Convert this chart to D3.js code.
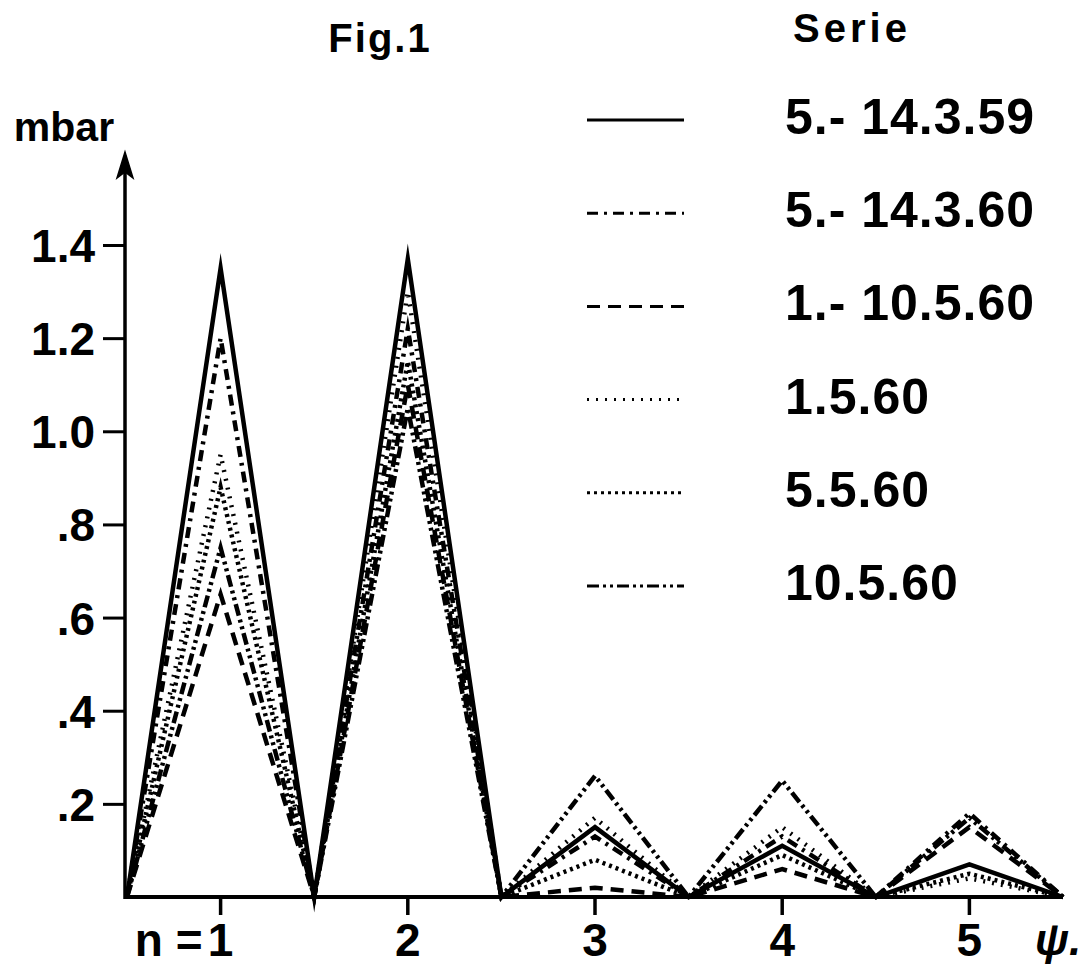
<!DOCTYPE html>
<html>
<head>
<meta charset="utf-8">
<script src="https://cdn.jsdelivr.net/npm/d3@7"></script>
<style>
  body { margin: 0; background: #fff; }
  text { font-family: "Liberation Sans", "DejaVu Sans", sans-serif; font-weight: bold; fill: #000; }
</style>
</head>
<body>
<svg id="chart" width="1089" height="965"></svg>
<script>
// harmonic order n and y ticks
const orders = [1, 2, 3, 4, 5];
const yTicks = [0.2, 0.4, 0.6, 0.8, 1.0, 1.2, 1.4];

// series labels (legend) and peak values per order, mbar
const seriesNames = ["5.- 14.3.59", "5.- 14.3.60", "1.- 10.5.60", "1.5.60", "5.5.60", "10.5.60"];
const s14359  = [1.35, 1.37, 0.15, 0.11, 0.07];
const s14360  = [1.20, 1.22, 0.13, 0.13, 0.18];
const s110560 = [0.65, 1.10, 0.02, 0.06, 0.15];
const s1560   = [0.95, 1.30, 0.17, 0.15, 0.04];
const s5560   = [0.88, 1.15, 0.08, 0.09, 0.05];
const s10560  = [0.75, 1.05, 0.26, 0.25, 0.17];
const seriesValues = [s14359, s14360, s110560, s1560, s5560, s10560];
const dashes = ["none", "11,6,3,6", "13,8", "2,7", "3,4", "12,4,3,4,3,4"];

const svg = d3.select("#chart");

const x = d3.scaleLinear().domain([0.5, 5.5]).range([127, 1063]);
const y = d3.scaleLinear().domain([0, 1.4]).range([897, 245]);
const axisX = 125;

// Title
svg.append("text")
    .attr("x", 380).attr("y", 52)
    .attr("text-anchor", "middle")
    .style("font-size", "40px")
    .style("letter-spacing", "2px")
    .text("Fig.1");

svg.append("text")
    .attr("x", 64).attr("y", 141)
    .attr("text-anchor", "middle")
    .style("font-size", "41px")
    .text("mbar");

// Y axis
const yAxis = d3.axisLeft(y)
    .tickValues(yTicks)
    .tickSize(22)
    .tickPadding(8)
    .tickFormat(d => d < 1 ? d3.format(".1f")(d).replace(/^0/, "") : d3.format(".1f")(d));

const gy = svg.append("g")
    .attr("transform", `translate(${axisX},0)`)
    .call(yAxis);
gy.select(".domain").remove();
gy.selectAll(".tick line").attr("stroke", "#000").attr("stroke-width", 3);
gy.selectAll(".tick text")
    .style("font-size", "46px")
    .attr("dy", "0.36em");

svg.append("line")
    .attr("x1", axisX).attr("x2", axisX)
    .attr("y1", y(0) + 2).attr("y2", 165)
    .attr("stroke", "#000").attr("stroke-width", 3.5);

svg.append("path")
    .attr("d", `M${axisX},152 L${axisX - 8},178 L${axisX},172 L${axisX + 8},178 Z`)
    .attr("fill", "#000").attr("stroke", "#000").attr("stroke-width", 1.5);

// X axis
svg.append("line")
    .attr("x1", axisX).attr("x2", x(5.5))
    .attr("y1", y(0)).attr("y2", y(0))
    .attr("stroke", "#000").attr("stroke-width", 4);

svg.selectAll(".xtick")
    .data(orders)
    .enter()
    .append("line")
    .attr("class", "xtick")
    .attr("x1", d => x(d)).attr("x2", d => x(d))
    .attr("y1", y(0)).attr("y2", y(0) + 18)
    .attr("stroke", "#000").attr("stroke-width", 3.5);

svg.selectAll(".xlabel")
    .data(orders)
    .enter()
    .append("text")
    .attr("class", "xlabel")
    .attr("x", d => x(d))
    .attr("y", 956)
    .attr("text-anchor", "middle")
    .style("font-size", "46px")
    .text(d => d);

svg.append("text")
    .attr("x", x(1) - 18).attr("y", 956)
    .attr("text-anchor", "end")
    .style("font-size", "46px")
    .text("n =");

svg.append("text")
    .attr("x", 1058).attr("y", 955)
    .attr("text-anchor", "middle")
    .style("font-size", "44px")
    .style("font-style", "italic")
    .text("ψ.");

// Series: zero at half orders, peak at each order
const line = d3.line()
    .x(d => x(d[0]))
    .y(d => y(d[1]));

function toPoints(vals) {
    const pts = [[0.5, 0]];
    vals.forEach((v, i) => {
        pts.push([orders[i], v]);
        pts.push([orders[i] + 0.5, 0]);
    });
    return pts;
}

svg.selectAll(".series")
    .data(seriesValues)
    .enter()
    .append("path")
    .attr("class", "series")
    .attr("d", d => line(toPoints(d)))
    .attr("fill", "none")
    .attr("stroke", "#000")
    .attr("stroke-width", 4.5)
    .attr("stroke-linejoin", "miter")
    .attr("stroke-miterlimit", 12)
    .attr("stroke-dasharray", (d, i) => dashes[i]);

// Legend
svg.append("text")
    .attr("x", 852).attr("y", 42)
    .attr("text-anchor", "middle")
    .style("font-size", "40px")
    .style("letter-spacing", "4px")
    .text("Serie");

const legendY = d3.scalePoint().domain(seriesNames).range([120, 586]);

const legend = svg.selectAll(".legend")
    .data(seriesNames)
    .enter()
    .append("g")
    .attr("class", "legend")
    .attr("transform", d => `translate(0,${legendY(d)})`);

legend.append("line")
    .attr("x1", 587).attr("x2", 684)
    .attr("stroke", "#000")
    .attr("stroke-width", 3)
    .attr("stroke-dasharray", (d, i) => dashes[i]);

legend.append("text")
    .attr("x", 785).attr("y", 14)
    .style("font-size", "50px")
    .style("letter-spacing", "1px")
    .text(d => d);
</script>
</body>
</html>
